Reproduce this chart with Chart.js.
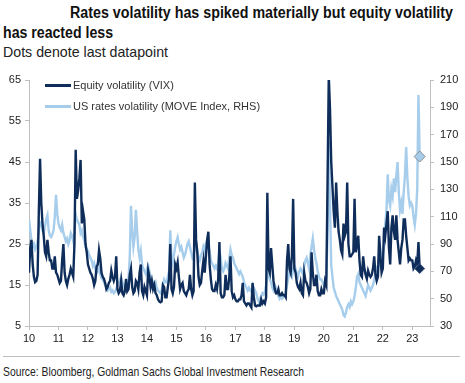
<!DOCTYPE html>
<html>
<head>
<meta charset="utf-8">
<script src="https://cdn.jsdelivr.net/npm/chart.js@4/dist/chart.umd.min.js"></script>
<style>
  html, body { margin: 0; padding: 0; background: #fff; }
  body { width: 465px; height: 383px; position: relative; overflow: hidden; font-family: "Liberation Sans", Arial, sans-serif; }
  .fit { position: absolute; white-space: nowrap; transform-origin: 0 0; display: inline-block; font-family: "Liberation Sans", Arial, sans-serif; }
  #t1 { left: 70px; top: 4px; font-size: 16px; font-weight: bold; color: #111; }
  #t2 { left: 3px; top: 24px; font-size: 16px; font-weight: bold; color: #111; }
  #sub { left: 3px; top: 43px; font-size: 15px; color: #222; }
  #wrap { position: absolute; left: 0; top: 62px; width: 465px; height: 290px; }
  #legend { position: absolute; left: 45px; top: 78px; font-size: 11px; color: #333; }
  .li { position: relative; height: 21px; line-height: 14px; white-space: nowrap; }
  .sw { display: inline-block; width: 26px; height: 3px; vertical-align: middle; margin-right: 2px; position: relative; top: -1px; }
  #rule { position: absolute; left: 3px; top: 356px; width: 457px; height: 1px; background: #BFBFBF; }
  #src { left: 3px; top: 364px; font-size: 13px; color: #222; }
</style>
</head>
<body>
<div id="t1" class="fit" data-w="383">Rates volatility has spiked materially but equity volatility</div>
<div id="t2" class="fit" data-w="110">has reacted less</div>
<div id="sub" class="fit" data-w="165">Dots denote last datapoint</div>
<div id="wrap"><canvas id="c" width="465" height="290"></canvas></div>
<div id="legend">
  <div class="li"><span class="sw" style="background:#0E2D5A"></span>Equity volatility (VIX)</div>
  <div class="li"><span class="sw" style="background:#A6CDEB"></span>US rates volatility (MOVE Index, RHS)</div>
</div>
<div id="rule"></div>
<div id="src" class="fit" data-w="301">Source: Bloomberg, Goldman Sachs Global Investment Research</div>
<script>
// condensed look: scale text horizontally to the reference widths
document.querySelectorAll('.fit').forEach(el => {
  const w = el.getBoundingClientRect().width;
  const target = parseFloat(el.dataset.w);
  if (w > 0) el.style.transform = 'scaleX(' + (target / w) + ')';
});

const startYear = 2010;
const pointsPerYear = 24; // semi-monthly readings
const seriesNames = ["Equity volatility (VIX)", "US rates volatility (MOVE Index, RHS)"];

const vix = [
  // 2010
  18, 24, 26, 20, 17, 15.7, 16, 17.5, 33, 45.8, 35, 30, 27, 23, 22, 26, 23, 21, 21, 19, 19, 22, 18, 17.5,
  // 2011
  16.5, 15.5, 16, 21, 25, 18, 16, 15, 16.5, 17.5, 19, 18, 17, 25, 48, 36, 38, 41, 45.5, 30, 33, 31, 25, 23,
  // 2012
  20, 19, 18, 17.5, 16.5, 15, 16, 19.5, 20, 23.5, 21.5, 18, 17, 16.5, 15.5, 14, 14.5, 15.5, 16, 18.5, 17, 16, 17, 22,
  // 2013
  14, 13, 13.5, 16, 13, 12.5, 13.5, 16.5, 13.5, 14, 17.5, 19, 14.5, 13, 13.5, 16, 15.5, 14, 18, 20, 13.5, 12.5, 14.5, 13.5,
  // 2014
  12.5, 18.5, 17, 14.5, 16, 14, 15, 13, 12.5, 11.5, 11, 10.8, 11, 15, 14.5, 12, 12, 14.5, 16.5, 25, 14, 13, 14.5, 20,
  // 2015
  19, 20.5, 17, 14, 15, 15.5, 13.5, 13, 12.5, 13.5, 14, 17.5, 14, 12.5, 13.5, 40, 26, 23, 17, 15, 15.5, 18.5, 21, 18,
  // 2016
  22, 26, 28, 20, 16.5, 14, 13.5, 13.5, 15, 14, 16.5, 25.5, 13, 12, 12, 12.5, 17.5, 14, 14, 17, 22, 13.5, 12, 12.5,
  // 2017
  11.5, 11, 11, 11.5, 11.5, 12.5, 15.5, 11, 10.5, 10, 10.5, 10.5, 10, 9.5, 15.5, 12, 10, 9.8, 10, 10, 10, 11.5, 10.5, 11,
  // 2018
  10.5, 12, 37.5, 19, 18, 24, 20, 16, 14, 13, 13, 14, 12.5, 12.5, 13, 12.5, 12.5, 12, 21, 25, 19, 18, 22, 36,
  // 2019
  19, 18, 15.5, 14.5, 14, 15.5, 13, 12.5, 18, 16, 15.5, 14.5, 13, 14, 23, 18, 15, 15, 17.5, 13.5, 12.5, 12.5, 14, 13,
  // 2020
  13, 16, 15, 40, 66, 58, 45, 39, 33, 29, 40, 33, 28, 26, 23.5, 22.5, 30, 27, 28, 40, 25, 22, 22, 22.5,
  // 2021
  23, 36, 23, 25, 27, 21, 17.5, 17, 22, 19, 17.5, 16.5, 18.5, 17.5, 17, 17.5, 19, 22, 17.5, 16, 17, 27, 22, 18,
  // 2022
  19, 29, 27, 30, 33, 24, 20, 29, 32, 28, 26, 32, 26, 23, 20, 24, 26, 31, 31, 27, 24, 21, 21.5, 21,
  // 2023
  21, 19, 19.5, 21, 20, 25.5, 19
];

const move = [
  // 2010
  108, 100, 93, 88, 90, 86, 88, 92, 100, 106, 105, 100, 98, 103, 108, 111, 100, 96, 95, 97, 100, 110, 126, 112,
  // 2011
  105, 102, 100, 104, 98, 95, 92, 94, 90, 93, 98, 96, 92, 100, 112, 108, 106, 104, 98, 100, 95, 93, 88, 86,
  // 2012
  85, 82, 80, 78, 74, 76, 72, 74, 70, 72, 68, 65, 64, 62, 60, 58, 56, 57, 58, 55, 56, 54, 55, 57,
  // 2013
  60, 62, 63, 66, 62, 60, 58, 56, 56, 65, 80, 118, 100, 88, 95, 115, 100, 86, 80, 85, 75, 72, 70, 68,
  // 2014
  72, 74, 70, 66, 64, 62, 60, 62, 58, 56, 55, 54, 56, 60, 64, 62, 62, 66, 70, 100, 80, 76, 82, 88,
  // 2015
  92, 95, 90, 86, 88, 84, 80, 82, 86, 90, 92, 88, 84, 80, 82, 86, 90, 84, 80, 78, 82, 84, 88, 85,
  // 2016
  90, 93, 88, 85, 78, 76, 74, 72, 74, 72, 76, 85, 80, 72, 70, 72, 76, 74, 72, 80, 86, 82, 80, 76,
  // 2017
  74, 72, 70, 68, 70, 68, 66, 62, 60, 58, 56, 58, 56, 55, 60, 58, 56, 54, 50, 48, 50, 52, 54, 53,
  // 2018
  55, 60, 68, 70, 64, 62, 58, 56, 60, 58, 54, 52, 50, 52, 50, 51, 52, 55, 60, 65, 70, 68, 66, 72,
  // 2019
  74, 72, 68, 66, 70, 72, 70, 68, 74, 78, 80, 76, 72, 82, 88, 94, 86, 80, 76, 70, 66, 64, 64, 62,
  // 2020
  60, 62, 66, 95, 165, 120, 75, 66, 58, 55, 52, 50, 48, 46, 44, 42, 38, 37, 40, 44, 46, 44, 48, 46,
  // 2021
  48, 52, 58, 66, 68, 62, 60, 58, 56, 54, 52, 56, 60, 58, 56, 58, 60, 64, 68, 72, 70, 80, 86, 78,
  // 2022
  82, 88, 105, 115, 141, 122, 118, 130, 125, 138, 128, 140, 150, 128, 115, 120, 112, 128, 140, 161, 138, 125, 118, 120,
  // 2023
  118, 110, 104, 112, 130, 199, 154
];

const leftTicks = [5, 15, 25, 35, 45, 55, 65];
const rightTicks = [30, 50, 70, 90, 110, 130, 150, 170, 190, 210];
const yearTicks = [2010, 2011, 2012, 2013, 2014, 2015, 2016, 2017, 2018, 2019, 2020, 2021, 2022, 2023];

const toPoints = arr => arr.map((v, i) => ({ x: startYear + i / pointsPerYear, y: v }));
const lastOnly = (arr, r) => arr.map((_, i) => i === arr.length - 1 ? r : 0);

const axisColor = '#BFBFBF';
const tickFont = { family: '"Liberation Sans", Arial, sans-serif', size: 11 };

new Chart(document.getElementById('c'), {
  type: 'line',
  data: {
    datasets: [
      {
        label: seriesNames[0],
        data: toPoints(vix),
        yAxisID: 'y',
        borderColor: '#0E2D5A',
        backgroundColor: '#0E2D5A',
        borderWidth: 2.4,
        tension: 0,
        pointStyle: 'rectRot',
        pointRadius: lastOnly(vix, 5),
        pointBorderColor: '#4A5F80',
        pointBorderWidth: 1,
        clip: 0
      },
      {
        label: seriesNames[1],
        data: toPoints(move),
        yAxisID: 'y1',
        borderColor: '#A6CDEB',
        backgroundColor: '#A6CDEB',
        borderWidth: 2.4,
        tension: 0,
        pointStyle: 'rectRot',
        pointRadius: lastOnly(move, 5.5),
        pointBackgroundColor: '#A6CDEB',
        pointBorderColor: '#8C8C8C',
        pointBorderWidth: 1,
        clip: 0
      }
    ]
  },
  options: {
    responsive: false,
    animation: false,
    layout: { padding: { top: 18, left: 0, right: 0, bottom: 0 } },
    plugins: { legend: { display: false }, tooltip: { enabled: false }, title: { display: false } },
    scales: {
      x: {
        type: 'linear',
        min: 2010,
        max: 2023.6,
        afterFit: s => { s.height = 26; },
        afterBuildTicks: s => { s.ticks = yearTicks.map(v => ({ value: v })); },
        ticks: { font: tickFont, color: '#222', padding: 2, maxRotation: 0, autoSkip: false,
                 callback: v => String(v).slice(2) },
        grid: { drawOnChartArea: false, drawTicks: true, tickLength: 4, color: axisColor },
        border: { display: true, color: axisColor, width: 1 }
      },
      y: {
        position: 'left',
        min: 5,
        max: 65,
        afterFit: s => { s.width = 29; },
        afterBuildTicks: s => { s.ticks = leftTicks.map(v => ({ value: v })); },
        ticks: { font: tickFont, color: '#222', padding: 4 },
        grid: { drawOnChartArea: false, drawTicks: true, tickLength: 4, color: axisColor },
        border: { display: true, color: axisColor, width: 1 }
      },
      y1: {
        position: 'right',
        min: 30,
        max: 210,
        afterFit: s => { s.width = 35; },
        afterBuildTicks: s => { s.ticks = rightTicks.map(v => ({ value: v })); },
        ticks: { font: tickFont, color: '#222', padding: 6 },
        grid: { drawOnChartArea: false, drawTicks: true, tickLength: 4, color: axisColor },
        border: { display: true, color: axisColor, width: 1 }
      }
    }
  }
});
</script>
</body>
</html>
